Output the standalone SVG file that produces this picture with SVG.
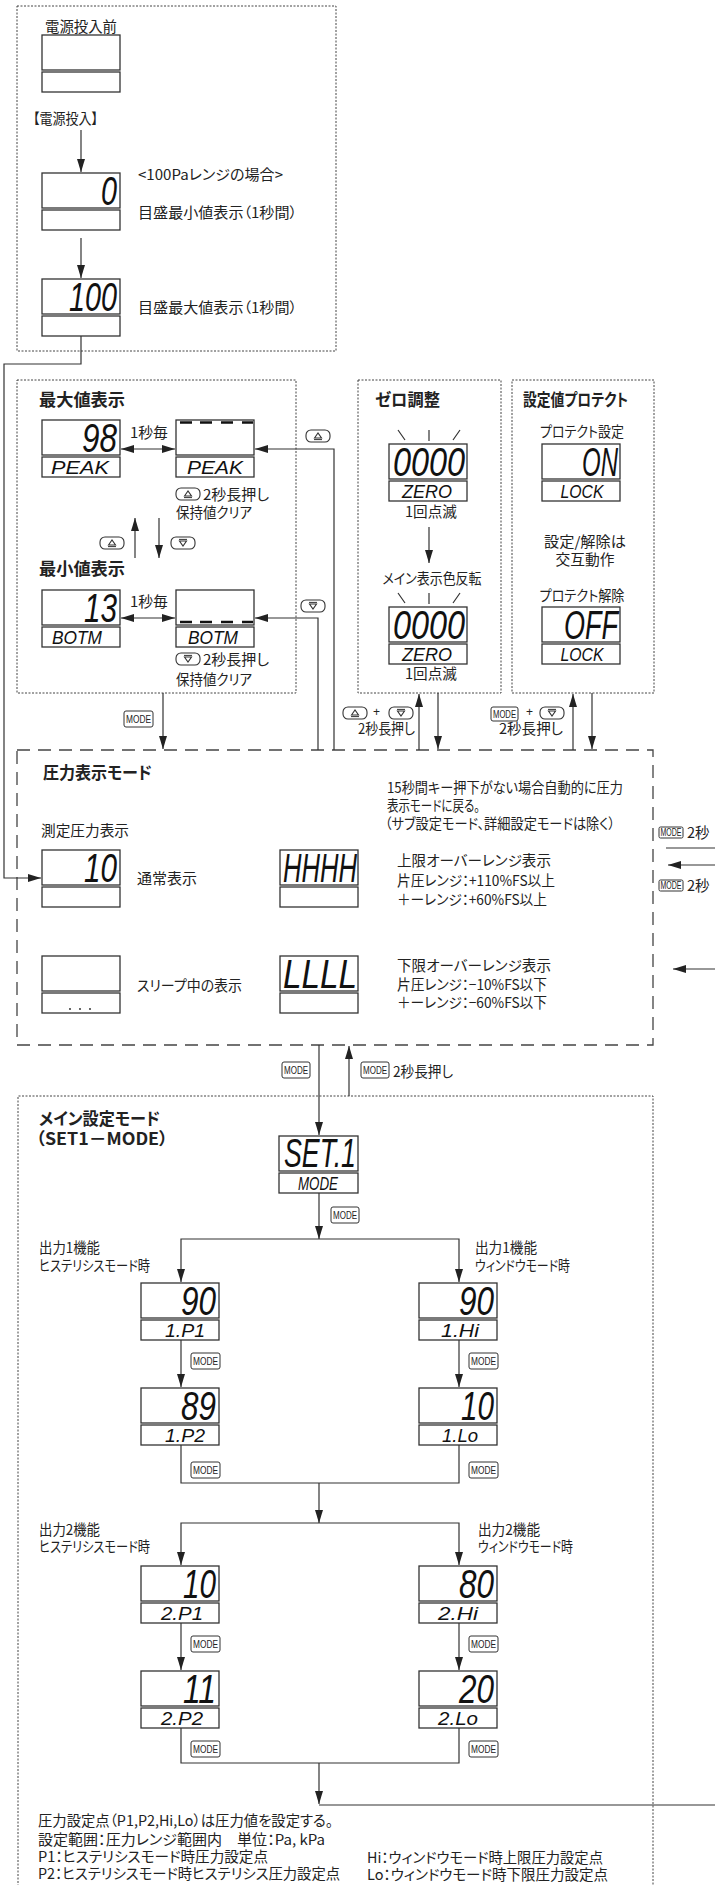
<svg xmlns="http://www.w3.org/2000/svg" xmlns:xlink="http://www.w3.org/1999/xlink" width="715" height="1885" viewBox="0 0 715 1885">
<style>
.t{font-family:"Noto Sans CJK JP","Noto Sans CJK SC",sans-serif;font-size:14.5px;fill:#222;font-feature-settings:"palt"}
.tb{font-weight:bold;font-size:17px}
.c{text-anchor:middle}
.pl{font-family:"Liberation Sans",sans-serif;font-size:12px;fill:#222}
.seg{font-family:"Liberation Sans Narrow","Liberation Sans",sans-serif;font-style:italic;font-size:40px;fill:#111;text-anchor:end}
.sub{font-family:"Liberation Sans Narrow","Liberation Sans",sans-serif;font-style:italic;font-size:19px;fill:#111;text-anchor:middle}
.md{font-family:"Liberation Sans Narrow","Liberation Sans",sans-serif;font-size:10px;fill:#222;text-anchor:middle}
.m{fill:#fff;stroke:#333;stroke-width:1.3}
.k{fill:#fff;stroke:#333;stroke-width:1}
.ln{fill:none;stroke:#333;stroke-width:1.2}
.ar{fill:none;stroke:#333;stroke-width:1.2;marker-end:url(#a)}
.dot{fill:none;stroke:#444;stroke-width:1;stroke-dasharray:2 1.5}
.dash{fill:none;stroke:#444;stroke-width:1.3;stroke-dasharray:13 8}
.bar{stroke:#111;stroke-width:2.6}
</style>
<defs>
<marker id="a" viewBox="0 0 13 8" refX="13" refY="4" markerWidth="13" markerHeight="8" markerUnits="userSpaceOnUse" orient="auto-start-reverse"><path d="M0,0 L13,4 L0,8 z" fill="#222"/></marker>
<g id="up"><rect x="0" y="0" width="24" height="12" rx="5" fill="#fff" stroke="#333" stroke-width="1.1"/><path d="M8.5,8 L12,3 L15.5,8 Z" fill="none" stroke="#333" stroke-width="1.1"/><line x1="8" y1="9.6" x2="16" y2="9.6" stroke="#333" stroke-width="1"/></g>
<g id="dn"><rect x="0" y="0" width="24" height="12" rx="5" fill="#fff" stroke="#333" stroke-width="1.1"/><path d="M8.5,4 L15.5,4 L12,9 Z" fill="none" stroke="#333" stroke-width="1.1"/><line x1="8" y1="2.4" x2="16" y2="2.4" stroke="#333" stroke-width="1"/></g>
</defs>
<rect width="715" height="1885" fill="#fff"/>

<g id="panel-power">
<rect class="dot" x="17" y="6" width="319" height="345"/>
<text class="t c" x="81" y="32" textLength="72" lengthAdjust="spacingAndGlyphs">電源投入前</text>
<text class="t" x="33" y="124" textLength="65" lengthAdjust="spacingAndGlyphs">【電源投入】</text>
<text class="t" x="138" y="180" font-size="13.5" textLength="145" lengthAdjust="spacingAndGlyphs">&lt;100Paレンジの場合&gt;</text>
<text class="t" x="138" y="218" textLength="159" lengthAdjust="spacingAndGlyphs">目盛最小値表示（1秒間）</text>
<text class="t" x="138" y="313" textLength="159" lengthAdjust="spacingAndGlyphs">目盛最大値表示（1秒間）</text>
</g>
<g id="panel-peak">
<rect class="dot" x="17" y="380" width="279" height="313"/>
<text class="t tb" x="39" y="406" textLength="86" lengthAdjust="spacingAndGlyphs">最大値表示</text>
<text class="t tb" x="39" y="575" textLength="86" lengthAdjust="spacingAndGlyphs">最小値表示</text>
<text class="t" x="130" y="438" textLength="38" lengthAdjust="spacingAndGlyphs">1秒毎</text>
<text class="t" x="130" y="607" textLength="38" lengthAdjust="spacingAndGlyphs">1秒毎</text>
<use xlink:href="#up" x="176" y="488"/>
<text class="t" x="203" y="500" textLength="66" lengthAdjust="spacingAndGlyphs">2秒長押し</text>
<text class="t" x="176" y="518" textLength="76" lengthAdjust="spacingAndGlyphs">保持値クリア</text>
<use xlink:href="#dn" x="176" y="653"/>
<text class="t" x="203" y="665" textLength="66" lengthAdjust="spacingAndGlyphs">2秒長押し</text>
<text class="t" x="176" y="685" textLength="76" lengthAdjust="spacingAndGlyphs">保持値クリア</text>
<use xlink:href="#up" x="100" y="537"/>
<use xlink:href="#dn" x="171" y="537"/>
</g>
<g id="panel-zero">
<rect class="dot" x="358" y="380" width="143" height="313"/>
<text class="t tb" x="375" y="406" textLength="65" lengthAdjust="spacingAndGlyphs">ゼロ調整</text>
<text class="t c" x="431" y="517" textLength="52" lengthAdjust="spacingAndGlyphs">1回点滅</text>
<text class="t c" x="432" y="584" textLength="99" lengthAdjust="spacingAndGlyphs">メイン表示色反転</text>
<text class="t c" x="431" y="679" textLength="52" lengthAdjust="spacingAndGlyphs">1回点滅</text>
<path class="ln" d="M398,430 L405,440 M429,430 L429,441 M460,430 L453,440"/>
<path class="ln" d="M398,593 L405,603 M429,593 L429,604 M460,593 L453,603"/>
</g>
<g id="panel-protect">
<rect class="dot" x="512" y="380" width="142" height="313"/>
<text class="t tb" x="523" y="406" textLength="105" lengthAdjust="spacingAndGlyphs">設定値プロテクト</text>
<text class="t c" x="582" y="437" textLength="84" lengthAdjust="spacingAndGlyphs">プロテクト設定</text>
<text class="t c" x="585" y="547" textLength="82" lengthAdjust="spacingAndGlyphs">設定/解除は</text>
<text class="t c" x="585" y="565" textLength="59" lengthAdjust="spacingAndGlyphs">交互動作</text>
<text class="t c" x="582" y="601" textLength="85" lengthAdjust="spacingAndGlyphs">プロテクト解除</text>
</g>
<g id="panel-pressure">
<rect class="dash" x="17" y="750" width="636" height="295"/>
<text class="t tb" x="43" y="779" textLength="109" lengthAdjust="spacingAndGlyphs">圧力表示モード</text>
<text class="t" x="41" y="836" textLength="88" lengthAdjust="spacingAndGlyphs">測定圧力表示</text>
<text class="t" x="137" y="884" textLength="60" lengthAdjust="spacingAndGlyphs">通常表示</text>
<text class="t" x="137" y="991" textLength="105" lengthAdjust="spacingAndGlyphs">スリープ中の表示</text>
<text class="t" x="387" y="793" font-size="14" textLength="236" lengthAdjust="spacingAndGlyphs">15秒間キー押下がない場合自動的に圧力</text>
<text class="t" x="387" y="811" font-size="14" textLength="93" lengthAdjust="spacingAndGlyphs">表示モードに戻る。</text>
<text class="t" x="385" y="829" font-size="14" textLength="230" lengthAdjust="spacingAndGlyphs">（サブ設定モード、詳細設定モードは除く）</text>
<text class="t" x="397" y="866" font-size="14" textLength="154" lengthAdjust="spacingAndGlyphs">上限オーバーレンジ表示</text>
<text class="t" x="397" y="886" font-size="14" textLength="158" lengthAdjust="spacingAndGlyphs">片圧レンジ：+110%FS以上</text>
<text class="t" x="397" y="905" font-size="14" textLength="150" lengthAdjust="spacingAndGlyphs">＋ーレンジ：+60%FS以上</text>
<text class="t" x="397" y="971" font-size="14" textLength="154" lengthAdjust="spacingAndGlyphs">下限オーバーレンジ表示</text>
<text class="t" x="397" y="990" font-size="14" textLength="150" lengthAdjust="spacingAndGlyphs">片圧レンジ：−10%FS以下</text>
<text class="t" x="397" y="1008" font-size="14" textLength="150" lengthAdjust="spacingAndGlyphs">＋ーレンジ：−60%FS以下</text>
</g>
<g id="panel-setting">
<path class="dot" d="M18,1890 V1096 H653 V1890"/>
<text class="t tb"><tspan x="39" y="1125" textLength="121" lengthAdjust="spacingAndGlyphs">メイン設定モード</tspan><tspan x="36" y="1145" textLength="132" lengthAdjust="spacingAndGlyphs">（SET1－MODE）</tspan></text>
<text class="t" x="39" y="1253" font-size="13.5" textLength="61" lengthAdjust="spacingAndGlyphs">出力1機能</text>
<text class="t" x="39" y="1271" font-size="13.5" textLength="111" lengthAdjust="spacingAndGlyphs">ヒステリシスモード時</text>
<text class="t" x="475" y="1253" font-size="13.5" textLength="62" lengthAdjust="spacingAndGlyphs">出力1機能</text>
<text class="t" x="475" y="1271" font-size="13.5" textLength="95" lengthAdjust="spacingAndGlyphs">ウィンドウモード時</text>
<text class="t" x="39" y="1535" font-size="13.5" textLength="61" lengthAdjust="spacingAndGlyphs">出力2機能</text>
<text class="t" x="39" y="1552" font-size="13.5" textLength="111" lengthAdjust="spacingAndGlyphs">ヒステリシスモード時</text>
<text class="t" x="478" y="1535" font-size="13.5" textLength="62" lengthAdjust="spacingAndGlyphs">出力2機能</text>
<text class="t" x="478" y="1552" font-size="13.5" textLength="95" lengthAdjust="spacingAndGlyphs">ウィンドウモード時</text>
<text class="t" x="38" y="1826" font-size="14" textLength="295" lengthAdjust="spacingAndGlyphs">圧力設定点（P1,P2,Hi,Lo）は圧力値を設定する。</text>
<text class="t" x="38" y="1845" font-size="14" textLength="287" lengthAdjust="spacingAndGlyphs">設定範囲：圧力レンジ範囲内　単位：Pa, kPa</text>
<text class="t" x="38" y="1862" font-size="14" textLength="230" lengthAdjust="spacingAndGlyphs">P1：ヒステリシスモード時圧力設定点</text>
<text class="t" x="38" y="1879" font-size="14" textLength="302" lengthAdjust="spacingAndGlyphs">P2：ヒステリシスモード時ヒステリシス圧力設定点</text>
<text class="t" x="367" y="1863" font-size="14" textLength="236" lengthAdjust="spacingAndGlyphs">Hi：ウィンドウモード時上限圧力設定点</text>
<text class="t" x="367" y="1880" font-size="14" textLength="241" lengthAdjust="spacingAndGlyphs">Lo：ウィンドウモード時下限圧力設定点</text>
</g>

<g id="d-before"><rect class="m" x="42" y="35" width="78" height="35"/><rect class="m" x="42" y="72" width="78" height="20"/></g>
<g id="d-min-scale"><rect class="m" x="42" y="173" width="78" height="35"/><rect class="m" x="42" y="210" width="78" height="20"/><text class="seg" x="117" y="205" textLength="16" lengthAdjust="spacingAndGlyphs">0</text></g>
<g id="d-max-scale"><rect class="m" x="42" y="279" width="78" height="35"/><rect class="m" x="42" y="316" width="78" height="20"/><text class="seg" x="117" y="311" textLength="48" lengthAdjust="spacingAndGlyphs">100</text></g>

<g id="d-peak"><rect class="m" x="42" y="420" width="78" height="35"/><rect class="m" x="42" y="457" width="78" height="20"/><text class="seg" x="117" y="452" textLength="35" lengthAdjust="spacingAndGlyphs">98</text><text class="sub" x="80" y="474" textLength="58" lengthAdjust="spacingAndGlyphs">PEAK</text></g>
<g id="d-peak-clear"><rect class="m" x="176" y="420" width="78" height="35"/><rect class="m" x="176" y="457" width="78" height="20"/><path class="bar" d="M180,422.5 H192 M200,422.5 H212 M221,422.5 H233 M242,422.5 H253"/><text class="sub" x="215" y="474" textLength="56" lengthAdjust="spacingAndGlyphs">PEAK</text></g>
<g id="d-bottom"><rect class="m" x="42" y="590" width="78" height="35"/><rect class="m" x="42" y="627" width="78" height="20"/><text class="seg" x="117" y="622" textLength="33" lengthAdjust="spacingAndGlyphs">13</text><text class="sub" x="77" y="644" textLength="50" lengthAdjust="spacingAndGlyphs">BOTM</text></g>
<g id="d-bottom-clear"><rect class="m" x="176" y="590" width="78" height="35"/><rect class="m" x="176" y="627" width="78" height="20"/><path class="bar" d="M180,622 H192 M200,622 H212 M221,622 H233 M242,622 H253"/><text class="sub" x="213" y="644" textLength="50" lengthAdjust="spacingAndGlyphs">BOTM</text></g>

<g id="d-zero1"><rect class="m" x="389" y="444" width="78" height="35"/><rect class="m" x="389" y="481" width="78" height="20"/><text class="seg" x="465" y="476" textLength="72" lengthAdjust="spacingAndGlyphs">0000</text><text class="sub" x="427" y="498" textLength="50" lengthAdjust="spacingAndGlyphs">ZERO</text></g>
<g id="d-zero2"><rect class="m" x="389" y="607" width="78" height="35"/><rect class="m" x="389" y="644" width="78" height="20"/><text class="seg" x="465" y="639" textLength="72" lengthAdjust="spacingAndGlyphs">0000</text><text class="sub" x="427" y="661" textLength="50" lengthAdjust="spacingAndGlyphs">ZERO</text></g>
<g id="d-lock-on"><rect class="m" x="542" y="444" width="78" height="35"/><rect class="m" x="542" y="481" width="78" height="20"/><text class="seg" x="618" y="476" textLength="36" lengthAdjust="spacingAndGlyphs">ON</text><text class="sub" x="582" y="498" textLength="43" lengthAdjust="spacingAndGlyphs">LOCK</text></g>
<g id="d-lock-off"><rect class="m" x="542" y="607" width="78" height="35"/><rect class="m" x="542" y="644" width="78" height="20"/><text class="seg" x="618" y="639" textLength="54" lengthAdjust="spacingAndGlyphs">OFF</text><text class="sub" x="582" y="661" textLength="43" lengthAdjust="spacingAndGlyphs">LOCK</text></g>

<g id="d-normal"><rect class="m" x="42" y="850" width="78" height="35"/><rect class="m" x="42" y="887" width="78" height="20"/><text class="seg" x="117" y="882" textLength="33" lengthAdjust="spacingAndGlyphs">10</text></g>
<g id="d-over"><rect class="m" x="280" y="850" width="78" height="35"/><rect class="m" x="280" y="887" width="78" height="20"/><text class="seg" x="357" y="882" textLength="74" lengthAdjust="spacingAndGlyphs">HHHH</text></g>
<g id="d-sleep"><rect class="m" x="42" y="956" width="78" height="35"/><rect class="m" x="42" y="993" width="78" height="20"/><circle cx="70" cy="1009" r="0.9" fill="#222"/><circle cx="80" cy="1009" r="0.9" fill="#222"/><circle cx="90" cy="1009" r="0.9" fill="#222"/></g>
<g id="d-under"><rect class="m" x="280" y="956" width="78" height="35"/><rect class="m" x="280" y="993" width="78" height="20"/><text class="seg" x="357" y="988" textLength="74" lengthAdjust="spacingAndGlyphs">LLLL</text></g>

<g id="d-set1"><rect class="m" x="279" y="1136" width="79" height="35"/><rect class="m" x="279" y="1173" width="79" height="20"/><text class="seg" x="356" y="1167" textLength="72" lengthAdjust="spacingAndGlyphs">SET.1</text><text class="sub" x="318" y="1190" textLength="40" lengthAdjust="spacingAndGlyphs">MODE</text></g>
<g id="d-1p1"><rect class="m" x="141" y="1283" width="78" height="35"/><rect class="m" x="141" y="1320" width="78" height="20"/><text class="seg" x="216" y="1315" textLength="35" lengthAdjust="spacingAndGlyphs">90</text><text class="sub" x="185" y="1337" textLength="40" lengthAdjust="spacingAndGlyphs">1.P1</text></g>
<g id="d-1p2"><rect class="m" x="141" y="1388" width="78" height="35"/><rect class="m" x="141" y="1425" width="78" height="20"/><text class="seg" x="216" y="1420" textLength="35" lengthAdjust="spacingAndGlyphs">89</text><text class="sub" x="185" y="1442" textLength="40" lengthAdjust="spacingAndGlyphs">1.P2</text></g>
<g id="d-1hi"><rect class="m" x="419" y="1283" width="78" height="35"/><rect class="m" x="419" y="1320" width="78" height="20"/><text class="seg" x="494" y="1315" textLength="35" lengthAdjust="spacingAndGlyphs">90</text><text class="sub" x="460" y="1337" textLength="38" lengthAdjust="spacingAndGlyphs">1.Hi</text></g>
<g id="d-1lo"><rect class="m" x="419" y="1388" width="78" height="35"/><rect class="m" x="419" y="1425" width="78" height="20"/><text class="seg" x="494" y="1420" textLength="33" lengthAdjust="spacingAndGlyphs">10</text><text class="sub" x="460" y="1442" textLength="36" lengthAdjust="spacingAndGlyphs">1.Lo</text></g>
<g id="d-2p1"><rect class="m" x="141" y="1566" width="78" height="35"/><rect class="m" x="141" y="1603" width="78" height="20"/><text class="seg" x="216" y="1598" textLength="33" lengthAdjust="spacingAndGlyphs">10</text><text class="sub" x="182" y="1620" textLength="42" lengthAdjust="spacingAndGlyphs">2.P1</text></g>
<g id="d-2p2"><rect class="m" x="141" y="1671" width="78" height="35"/><rect class="m" x="141" y="1708" width="78" height="20"/><text class="seg" x="216" y="1703" textLength="33" lengthAdjust="spacingAndGlyphs">11</text><text class="sub" x="182" y="1725" textLength="42" lengthAdjust="spacingAndGlyphs">2.P2</text></g>
<g id="d-2hi"><rect class="m" x="419" y="1566" width="78" height="35"/><rect class="m" x="419" y="1603" width="78" height="20"/><text class="seg" x="494" y="1598" textLength="35" lengthAdjust="spacingAndGlyphs">80</text><text class="sub" x="458" y="1620" textLength="40" lengthAdjust="spacingAndGlyphs">2.Hi</text></g>
<g id="d-2lo"><rect class="m" x="419" y="1671" width="78" height="35"/><rect class="m" x="419" y="1708" width="78" height="20"/><text class="seg" x="494" y="1703" textLength="35" lengthAdjust="spacingAndGlyphs">20</text><text class="sub" x="458" y="1725" textLength="40" lengthAdjust="spacingAndGlyphs">2.Lo</text></g>

<g id="connectors">
<path class="ar" d="M81,130 V172"/>
<path class="ar" d="M81,238 V278"/>
<path class="ar" d="M81,336 V364 H4 V878 H41"/>
<path class="ar" d="M121,449 H175" marker-start="url(#a)"/>
<path class="ar" d="M121,618 H175" marker-start="url(#a)"/>
<path class="ar" d="M334,750 V449 H255"/>
<path class="ar" d="M318,750 V618 H255"/>
<path class="ar" d="M135,558 V518"/>
<path class="ar" d="M159,518 V558"/>
<path class="ar" d="M163,693 V749"/>
<path class="ar" d="M419,750 V694"/>
<path class="ar" d="M438,693 V749"/>
<path class="ar" d="M573,750 V694"/>
<path class="ar" d="M592,693 V749"/>
<path class="ar" d="M429,527 V563"/>
<path class="ar" d="M319,1045 V1135"/>
<path class="ar" d="M349,1096 V1046"/>
<path class="ar" d="M319,1193 V1239"/>
<path class="ar" d="M319,1239 H181 V1282"/>
<path class="ar" d="M319,1239 H459 V1282"/>
<path class="ar" d="M181,1340 V1387"/>
<path class="ar" d="M459,1340 V1387"/>
<path class="ln" d="M181,1445 V1483 H459 V1445"/>
<path class="ar" d="M319,1483 V1523"/>
<path class="ar" d="M319,1523 H181 V1565"/>
<path class="ar" d="M319,1523 H459 V1565"/>
<path class="ar" d="M181,1623 V1670"/>
<path class="ar" d="M459,1623 V1670"/>
<path class="ln" d="M181,1728 V1763 H459 V1728"/>
<path class="ar" d="M319,1763 V1804"/>
<path class="ln" d="M319,1805 H715"/>
<path class="ln" d="M666,848 H715"/>
<path class="ar" d="M715,865 H668"/>
<path class="ar" d="M715,969 H673"/>
<use xlink:href="#up" x="306" y="430"/>
<use xlink:href="#dn" x="301" y="600"/>
<rect class="k" x="124" y="711" width="29" height="16" rx="2"/><text class="md" x="138.5" y="722.5" textLength="25" lengthAdjust="spacingAndGlyphs">MODE</text>
<use xlink:href="#up" x="343" y="707"/>
<text class="pl" x="373" y="716">+</text>
<use xlink:href="#dn" x="389" y="707"/>
<text class="t" x="358" y="734" font-size="13" textLength="57" lengthAdjust="spacingAndGlyphs">2秒長押し</text>
<rect class="k" x="491" y="707" width="27" height="14" rx="2"/><text class="md" x="504.5" y="717.5" textLength="23" lengthAdjust="spacingAndGlyphs">MODE</text>
<text class="pl" x="526" y="716">+</text>
<use xlink:href="#dn" x="540" y="707"/>
<text class="t" x="499" y="734" font-size="13" textLength="64" lengthAdjust="spacingAndGlyphs">2秒長押し</text>
<rect class="k" x="659" y="827" width="24" height="11" rx="1.5"/><text class="md" x="671" y="835.5" font-size="8.5" textLength="21" lengthAdjust="spacingAndGlyphs">MODE</text>
<text class="t" x="687" y="838" font-size="13">2秒</text>
<rect class="k" x="659" y="880" width="24" height="11" rx="1.5"/><text class="md" x="671" y="888.5" font-size="8.5" textLength="21" lengthAdjust="spacingAndGlyphs">MODE</text>
<text class="t" x="687" y="891" font-size="13">2秒</text>
<rect class="k" x="282" y="1062" width="28" height="16" rx="2"/><text class="md" x="296" y="1073.5" textLength="24" lengthAdjust="spacingAndGlyphs">MODE</text>
<rect class="k" x="361" y="1062" width="28" height="16" rx="2"/><text class="md" x="375" y="1073.5" textLength="24" lengthAdjust="spacingAndGlyphs">MODE</text>
<text class="t" x="393" y="1077" textLength="60" lengthAdjust="spacingAndGlyphs">2秒長押し</text>
<rect class="k" x="331" y="1207" width="28" height="16" rx="2"/><text class="md" x="345" y="1218.5" textLength="24" lengthAdjust="spacingAndGlyphs">MODE</text>
<rect class="k" x="191" y="1353" width="29" height="16" rx="2"/><text class="md" x="205.5" y="1364.5" textLength="25" lengthAdjust="spacingAndGlyphs">MODE</text>
<rect class="k" x="469" y="1353" width="29" height="16" rx="2"/><text class="md" x="483.5" y="1364.5" textLength="25" lengthAdjust="spacingAndGlyphs">MODE</text>
<rect class="k" x="191" y="1462" width="29" height="16" rx="2"/><text class="md" x="205.5" y="1473.5" textLength="25" lengthAdjust="spacingAndGlyphs">MODE</text>
<rect class="k" x="469" y="1462" width="29" height="16" rx="2"/><text class="md" x="483.5" y="1473.5" textLength="25" lengthAdjust="spacingAndGlyphs">MODE</text>
<rect class="k" x="191" y="1636" width="29" height="16" rx="2"/><text class="md" x="205.5" y="1647.5" textLength="25" lengthAdjust="spacingAndGlyphs">MODE</text>
<rect class="k" x="469" y="1636" width="29" height="16" rx="2"/><text class="md" x="483.5" y="1647.5" textLength="25" lengthAdjust="spacingAndGlyphs">MODE</text>
<rect class="k" x="191" y="1741" width="29" height="16" rx="2"/><text class="md" x="205.5" y="1752.5" textLength="25" lengthAdjust="spacingAndGlyphs">MODE</text>
<rect class="k" x="469" y="1741" width="29" height="16" rx="2"/><text class="md" x="483.5" y="1752.5" textLength="25" lengthAdjust="spacingAndGlyphs">MODE</text>
</g>
</svg>
